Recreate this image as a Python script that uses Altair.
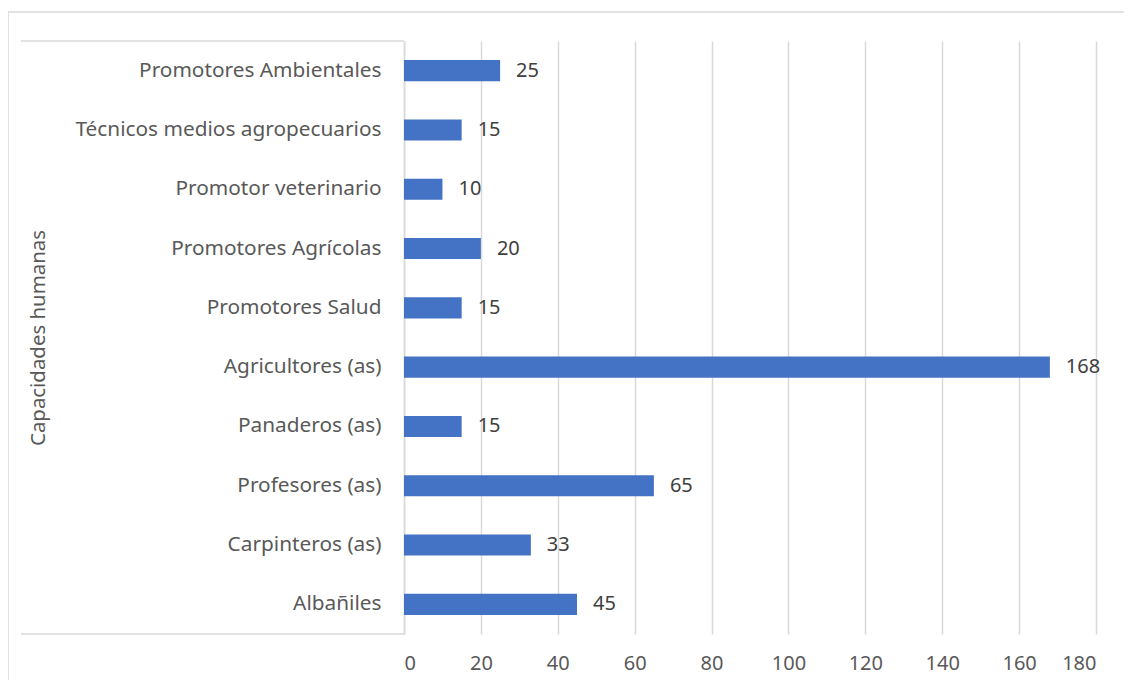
import altair as alt
import pandas as pd

categories = ["Promotores Ambientales", "Técnicos medios agropecuarios", "Promotor veterinario",
              "Promotores Agrícolas", "Promotores Salud", "Agricultores (as)", "Panaderos (as)",
              "Profesores (as)", "Carpinteros (as)", "Albañiles"]
values = [25, 15, 10, 20, 15, 168, 15, 65, 33, 45]
x_ticks = [0, 20, 40, 60, 80, 100, 120, 140, 160, 180]

df = pd.DataFrame({"cat": categories, "val": values})

W, H = 692, 593
FONT = "Noto Sans"
GRAY = "#595959"

base = alt.Chart(df)

y_enc = alt.Y("cat:N", sort=categories,
              scale=alt.Scale(paddingInner=0.645, paddingOuter=0.3225),
              axis=alt.Axis(title="Capacidades humanas", titleFont=FONT, titleFontSize=20.4,
                            titleFontWeight="normal", titleColor=GRAY, titlePadding=0,
                            titleX=-356, titleY=H / 2,
                            labelFont=FONT, labelFontSize=20.8, labelColor=GRAY, labelPadding=23,
                            ticks=False, domain=True, domainColor="#d9d9d9", domainWidth=1.5,
                            grid=False, labelLimit=400))
x_enc = alt.X("val:Q", scale=alt.Scale(domain=[0, 180], nice=False),
              axis=alt.Axis(title=None, values=x_ticks, labelFont=FONT, labelFontSize=20,
                            labelColor=GRAY, labelPadding=19, ticks=False, domain=False,
                            grid=True, gridColor="#d9d9d9", gridWidth=1.5))

bars = base.mark_bar(color="#4472C4").encode(x=x_enc, y=y_enc)
labels = base.mark_text(align="left", baseline="middle", dx=16, font=FONT, fontSize=20,
                        color="#404040").encode(x="val:Q", y=alt.Y("cat:N", sort=categories), text="val:Q")

frame = pd.DataFrame({"k": [0]})
line_col = "#d9d9d9"
top_line = alt.Chart(frame).mark_rule(color=line_col, strokeWidth=1.5).encode(
    x=alt.value(-383), x2=alt.value(0), y=alt.value(0))
bot_line = alt.Chart(frame).mark_rule(color=line_col, strokeWidth=1.5).encode(
    x=alt.value(-383), x2=alt.value(0), y=alt.value(H))
outer_top = alt.Chart(frame).mark_rule(color=line_col, strokeWidth=1.5).encode(
    x=alt.value(-396), x2=alt.value(740), y=alt.value(-29))
outer_left = alt.Chart(frame).mark_rule(color=line_col, strokeWidth=1.5).encode(
    x=alt.value(-396), y=alt.value(-29), y2=alt.value(H + 80))

chart = alt.layer(bars, labels, top_line, bot_line, outer_top, outer_left).properties(
    width=W, height=H,
    autosize=alt.AutoSizeParams(type="none"),
    padding={"left": 396, "top": 33, "right": 28, "bottom": 46},
).configure_view(stroke=None)

chart.save("out.html", embed_options={"renderer": "svg", "actions": False})
